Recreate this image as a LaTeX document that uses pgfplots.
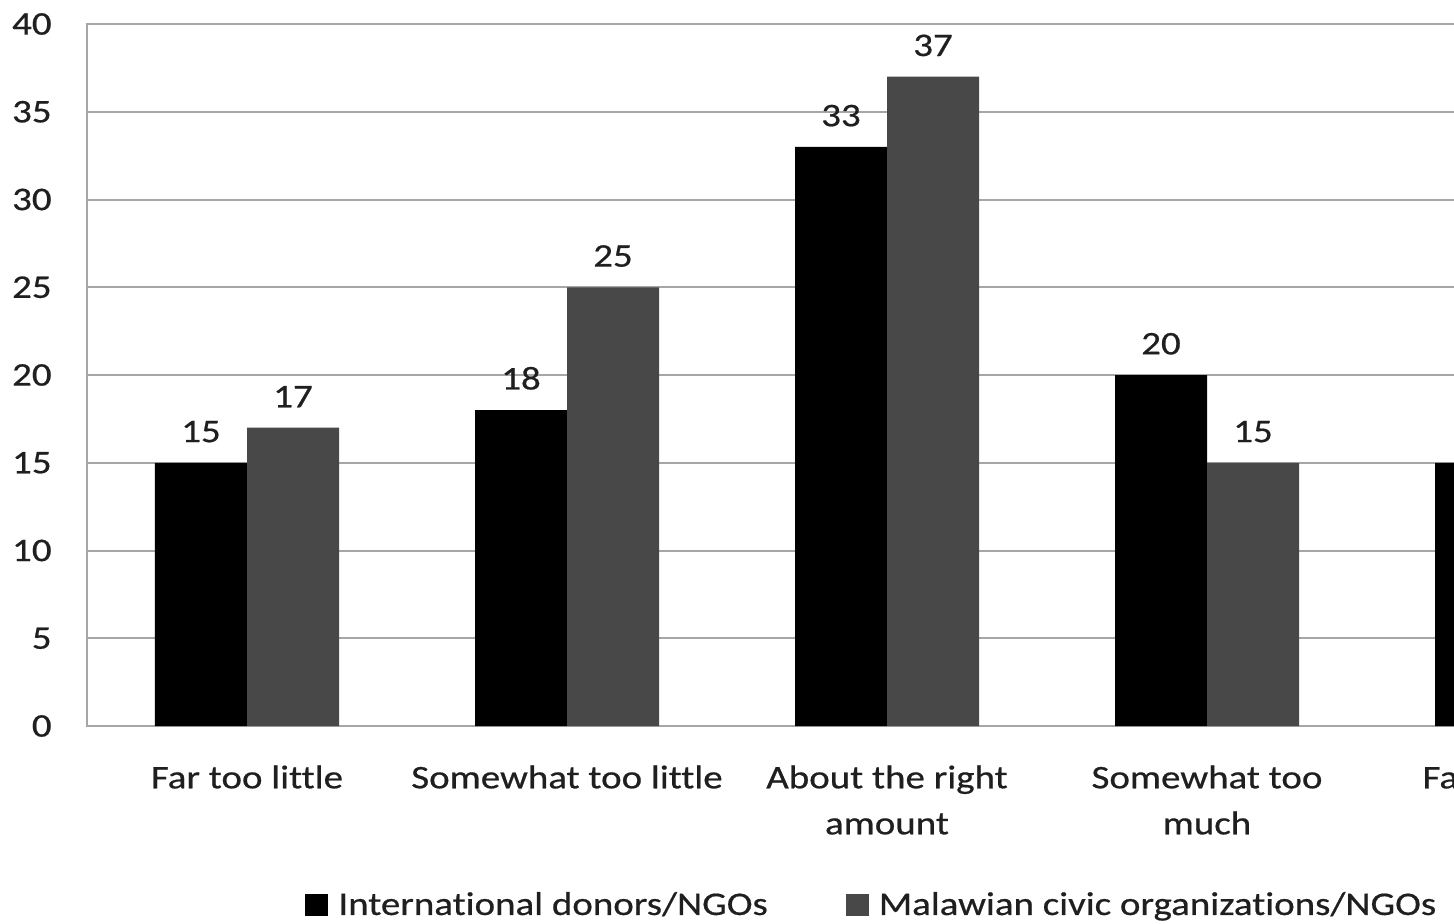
\documentclass[border=0pt]{standalone}
\usepackage{pgfplots}
\pgfplotsset{compat=1.18}
\usepackage{fontspec}
\setmainfont{Carlito}[FakeStretch=1.18, FakeBold=0.6, Ligatures=NoCommon]

\definecolor{bargrey}{HTML}{484848}
\definecolor{gridgrey}{HTML}{A6A6A6}
\definecolor{txt}{HTML}{1F1F1F}

\begin{document}
\begin{tikzpicture}
% visible window of the figure
\useasboundingbox (0,0) rectangle (727pt,-462pt);
\clip (0,0) rectangle (727pt,-462pt);
\begin{axis}[
  at={(43.5pt,-363pt)}, anchor=south west,
  scale only axis, width=800pt, height=351pt,
  xmin=-0.5, xmax=4.5, ymin=0, ymax=40,
  ytick={0,5,...,40},
  xtick={0,1,2,3,4},
  xticklabels={Far too little, Somewhat too little, About the right\\amount, Somewhat too\\much, Far too much},
  major tick length=0pt,
  ymajorgrids, grid style={gridgrey, line width=1pt},
  axis line style={gridgrey, line width=1pt},
  ybar=0pt, bar width=46pt,
  font=\fontsize{16.5}{23}\selectfont,
  /pgf/number format/assume math mode=true,
  ticklabel style={text=txt},
  yticklabel style={anchor=east, inner sep=0pt, xshift=-17.5pt},
  xticklabel style={anchor=north, align=center, inner sep=0pt, yshift=-19.5pt},
  nodes near coords,
  every node near coord/.append style={text=txt, anchor=south, inner sep=0pt, yshift=10pt},
  every axis plot post/.append style={legend image code/.code={\fill[##1] (0pt,-5.5pt) rectangle (11.5pt,5.5pt);}},
  legend columns=2,
  legend cell align=left,
  legend style={at={(axis description cs:0.13625,-0.255)}, anchor=west,
    draw=none, fill=none, inner sep=0pt, nodes={inner sep=0pt, text=txt},
    /tikz/every odd column/.append style={column sep=5pt},
    /tikz/every even column/.append style={column sep=39pt}},
]
\addplot[fill=black, draw=none] coordinates {(0,15) (1,18) (2,33) (3,20) (4,15)};
\addplot[fill=bargrey, draw=none] coordinates {(0,17) (1,25) (2,37) (3,15)};
\legend{International donors/NGOs, Malawian civic organizations/NGOs}
\end{axis}
\end{tikzpicture}
\end{document}
